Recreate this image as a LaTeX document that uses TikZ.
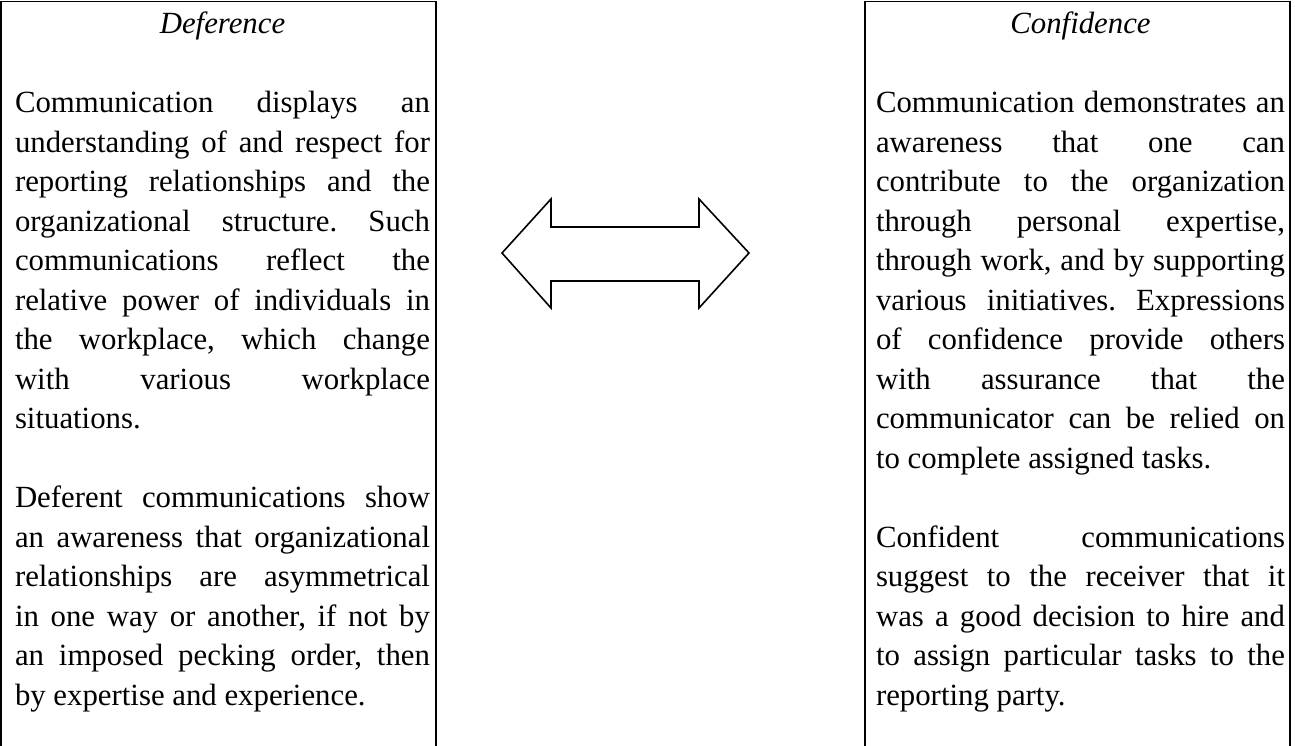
\documentclass[tikz,border=0pt]{standalone}
\usepackage{fontspec}
\setmainfont{Liberation Serif}
\hbadness=10000
\hfuzz=20pt
\frenchspacing
\newlength{\colw}
\newcommand{\jline}[1]{\hbox to\colw{#1}}
\newcommand{\rline}[1]{\hbox to\colw{#1\hfil}}
\newcommand{\ttline}[1]{\hbox to\colw{\hfil#1\hfil}}
\newcommand{\blankline}{\hbox{}}
\tikzset{
  frame/.style={draw=black, line width=1.3pt},
  dblarrow/.style={draw=black, line width=1.6pt, line join=miter, fill=white},
  textcol/.style={inner sep=0pt, outer sep=0pt, anchor=base west,
    font=\fontsize{30.8}{39.5}\selectfont},
}
\begin{document}
\begin{tikzpicture}[x=1pt, y=-1pt]
\useasboundingbox (0,0) rectangle (1295,746);
% frames (bottom edges cut off)
\draw[frame] (1,748) -- (1,1.5) -- (436,1.5) -- (436,748);
\draw[frame] (865,748) -- (865,1.5) -- (1290,1.5) -- (1290,748);
% double arrow
\draw[dblarrow] (502,253) -- (551,199) -- (551,227) -- (699,227) -- (699,199)
  -- (749,253) -- (699,308) -- (699,281) -- (551,281) -- (551,308) -- cycle;
% left text
\node[textcol] (lefttext) at (15,34) {\setlength{\colw}{415pt}%
\vtop{\fontsize{30.8}{39.5}\selectfont\baselineskip=39.5pt\frenchspacing
\ttline{\textit{Deference}}
\blankline
\jline{Communication displays an}
\jline{understanding of and respect for}
\jline{reporting relationships and the}
\jline{organizational structure. Such}
\jline{communications reflect the}
\jline{relative power of individuals in}
\jline{the workplace, which change}
\jline{with various workplace}
\rline{situations.}
\blankline
\jline{Deferent communications show}
\jline{an awareness that organizational}
\jline{relationships are asymmetrical}
\jline{in one way or another, if not by}
\jline{an imposed pecking order, then}
\rline{by expertise and experience.}
}};
% right text
\node[textcol] (righttext) at (876,34) {\setlength{\colw}{409pt}%
\vtop{\fontsize{30.8}{39.5}\selectfont\baselineskip=39.5pt\frenchspacing
\ttline{\textit{Confidence}}
\blankline
\jline{Communication demonstrates an}
\jline{awareness that one can}
\jline{contribute to the organization}
\jline{through personal expertise,}
\jline{through work, and by supporting}
\jline{various initiatives. Expressions}
\jline{of confidence provide others}
\jline{with assurance that the}
\jline{communicator can be relied on}
\rline{to complete assigned tasks.}
\blankline
\jline{Confident communications}
\jline{suggest to the receiver that it}
\jline{was a good decision to hire and}
\jline{to assign particular tasks to the}
\rline{reporting party.}
}};
\end{tikzpicture}
\end{document}
